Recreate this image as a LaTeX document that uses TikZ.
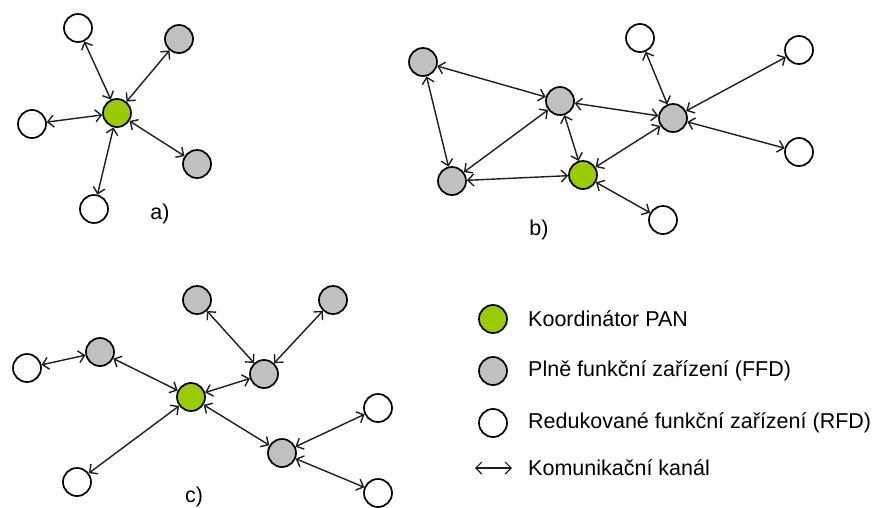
\documentclass[tikz,border=0pt]{standalone}
\usepackage{fontspec}
\setmainfont{Liberation Sans}
\usetikzlibrary{arrows.meta}
\definecolor{pangreen}{RGB}{153,204,0}
\definecolor{ffdgray}{RGB}{192,192,192}
\definecolor{edgecol}{RGB}{30,30,30}
\tikzset{
  dev/.style={circle, draw=black, line width=1.7pt, minimum size=28pt, inner sep=0pt},
  coord/.style={dev, fill=pangreen},
  ffd/.style={dev, fill=ffdgray},
  rfd/.style={dev, fill=white},
  link/.style={draw=edgecol, line width=1.4pt, {Straight Barb[length=6pt,width=12pt]}-{Straight Barb[length=6pt,width=12pt]}},
  lbl/.style={font=\fontsize{21.5}{25}\selectfont, inner sep=0pt},
  legtext/.style={font=\fontsize{21.5}{25}\selectfont, anchor=west, inner sep=0pt}
}
\begin{document}
\begin{tikzpicture}[x=1pt,y=-1pt]
\useasboundingbox[fill=white] (0,0) rectangle (877,507);
% ---- a)
\node[coord] (ac) at (117,113) {};
\node[rfd] (at) at (78,28) {};
\node[ffd] (atr) at (179,39) {};
\node[rfd] (al) at (32,124) {};
\node[ffd] (abr) at (197,164) {};
\node[rfd] (ab) at (94,209) {};
\node[lbl] (la) at (160,214) {a)};
\foreach \n in {at,atr,al,abr,ab} \draw[link] (ac) -- (\n);
% ---- b)
\node[ffd] (btl) at (423,62) {};
\node[ffd] (bm) at (560,101) {};
\node[ffd] (br) at (673,118) {};
\node[ffd] (bbl) at (452,181) {};
\node[coord] (bc) at (583,175) {};
\node[rfd] (bwt) at (640,38) {};
\node[rfd] (bwtr) at (799,50) {};
\node[rfd] (bwr) at (799,152) {};
\node[rfd] (bwb) at (663,220) {};
\node[lbl] (lb) at (539,230) {b)};
\draw[link] (btl) -- (bm);
\draw[link] (btl) -- (bbl);
\draw[link] (bbl) -- (bm);
\draw[link] (bbl) -- (bc);
\draw[link] (bm) -- (bc);
\draw[link] (bm) -- (br);
\draw[link] (bc) -- (br);
\draw[link] (br) -- (bwt);
\draw[link] (br) -- (bwtr);
\draw[link] (br) -- (bwr);
\draw[link] (bc) -- (bwb);
% ---- c)
\node[coord] (cc) at (191,397) {};
\node[ffd] (ct) at (197,300) {};
\node[ffd] (ctr) at (333,300) {};
\node[ffd] (cl) at (100,352) {};
\node[rfd] (cwl) at (27,368) {};
\node[ffd] (cm) at (264,374) {};
\node[ffd] (clr) at (282,453) {};
\node[rfd] (cwur) at (378,408) {};
\node[rfd] (cwlr) at (378,493) {};
\node[rfd] (cwbl) at (77,482) {};
\node[lbl] (lc) at (194,497) {c)};
\draw[link] (cwl) -- (cl);
\draw[link] (cl) -- (cc);
\draw[link] (cc) -- (cm);
\draw[link] (cm) -- (ct);
\draw[link] (cm) -- (ctr);
\draw[link] (cc) -- (cwbl);
\draw[link] (cc) -- (clr);
\draw[link] (clr) -- (cwur);
\draw[link] (clr) -- (cwlr);
% ---- legend
\node[coord] (kc) at (493,319) {};
\node[ffd] (kf) at (493,371) {};
\node[rfd] (kr) at (493,423) {};
\coordinate (ka1) at (475,468);
\coordinate (ka2) at (512,468);
\draw[link, line width=1.2pt] (ka1) -- (ka2);
\node[legtext] (tk) at (528,319) {Koordinátor PAN};
\node[legtext] (tf) at (528,371) {Plně funkční zařízení (FFD)};
\node[legtext] (tr) at (528,423) {Redukované funkční zařízení (RFD)};
\node[legtext] (ta) at (528,468) {Komunikační kanál};
\end{tikzpicture}
\end{document}
